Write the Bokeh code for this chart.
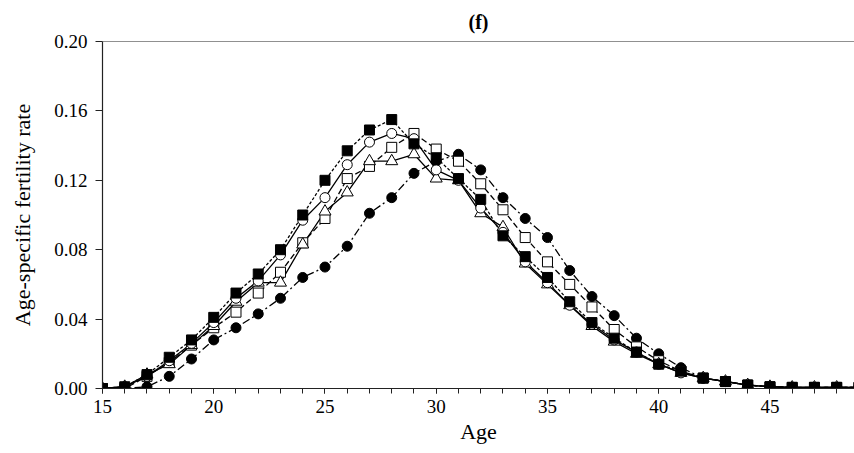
from bokeh.plotting import figure
from bokeh.models import Range1d, FixedTicker, NumeralTickFormatter, Span
from bokeh.embed import file_html
from bokeh.resources import INLINE

ages = list(range(15, 50))

filled_squares = [0.000, 0.001, 0.008, 0.018, 0.028, 0.041, 0.055, 0.066, 0.080, 0.100,
                  0.120, 0.137, 0.149, 0.155, 0.141, 0.133, 0.121, 0.109, 0.088, 0.076,
                  0.064, 0.050, 0.038, 0.029, 0.021, 0.014, 0.010, 0.006, 0.004, 0.002,
                  0.001, 0.0007, 0.0007, 0.0007, 0.0007]
open_circles = [0.000, 0.001, 0.007, 0.016, 0.026, 0.038, 0.052, 0.062, 0.077, 0.097,
                0.110, 0.129, 0.142, 0.147, 0.144, 0.126, 0.120, 0.104, 0.090, 0.073,
                0.061, 0.048, 0.037, 0.028, 0.021, 0.014, 0.009, 0.006, 0.004, 0.002,
                0.001, 0.0006, 0.0006, 0.0006, 0.0006]
open_squares = [0.000, 0.000, 0.007, 0.015, 0.025, 0.035, 0.044, 0.055, 0.067, 0.084,
                0.098, 0.121, 0.128, 0.139, 0.147, 0.138, 0.131, 0.118, 0.103, 0.087,
                0.073, 0.060, 0.047, 0.034, 0.024, 0.016, 0.010, 0.006, 0.004, 0.002,
                0.001, 0.0006, 0.0006, 0.0006, 0.0006]
open_triangles = [0.000, 0.001, 0.008, 0.014, 0.025, 0.036, 0.050, 0.061, 0.061, 0.083,
                  0.102, 0.113, 0.131, 0.131, 0.135, 0.121, 0.120, 0.101, 0.093, 0.072,
                  0.060, 0.048, 0.036, 0.027, 0.020, 0.014, 0.009, 0.006, 0.004, 0.002,
                  0.001, 0.0006, 0.0006, 0.0006, 0.0006]
filled_circles = [0.000, 0.000, 0.001, 0.007, 0.017, 0.028, 0.035, 0.043, 0.052, 0.064,
                  0.070, 0.082, 0.101, 0.110, 0.124, 0.131, 0.135, 0.126, 0.110, 0.098,
                  0.087, 0.068, 0.053, 0.042, 0.029, 0.020, 0.012, 0.006, 0.004, 0.002,
                  0.001, 0.0007, 0.0007, 0.0007, 0.0007]

x_major_ticks = [15, 20, 25, 30, 35, 40, 45]
y_major_ticks = [0.00, 0.04, 0.08, 0.12, 0.16, 0.20]

FONT = "Liberation Serif"

p = figure(width=854, height=453, x_range=Range1d(15, 48.8), y_range=Range1d(0, 0.2),
           output_backend="svg", toolbar_location=None,
           min_border_left=102, min_border_right=0, min_border_top=40, min_border_bottom=65,
           title="(f)")
p.title.align = "center"
p.title.text_font = FONT
p.title.text_font_size = "20px"
p.title.text_font_style = "bold"
p.title.text_color = "black"
p.title.standoff = 17
p.title.offset = -6

p.outline_line_color = None
p.xgrid.visible = False
p.ygrid.visible = False
p.background_fill_color = "white"
p.border_fill_color = "white"

p.add_layout(Span(location=0.2, dimension="width", line_color="#222222", line_width=1.2))

xa = p.xaxis[0]
xa.ticker = FixedTicker(ticks=x_major_ticks, minor_ticks=list(range(15, 50)))
xa.axis_label = "Age"
ya = p.yaxis[0]
ya.ticker = FixedTicker(ticks=y_major_ticks, minor_ticks=[])
ya.formatter = NumeralTickFormatter(format="0.00")
ya.axis_label = "Age-specific fertility rate"

for ax in (xa, ya):
    ax.axis_line_color = "#222222"
    ax.axis_line_width = 1.2
    ax.major_tick_line_color = "#222222"
    ax.minor_tick_line_color = "#222222"
    ax.major_tick_in = 0
    ax.minor_tick_in = 0
    ax.major_label_text_font = FONT
    ax.major_label_text_font_size = "19px"
    ax.major_label_text_color = "black"
    ax.axis_label_text_font = FONT
    ax.axis_label_text_font_size = "22px"
    ax.axis_label_text_font_style = "normal"
    ax.axis_label_text_color = "black"

xa.major_tick_out = 5
xa.minor_tick_out = 5
xa.major_label_standoff = 6
xa.axis_label_standoff = 3
ya.major_tick_out = 7
ya.major_label_standoff = 8
ya.axis_label_standoff = 16

LW = 1.3
p.line(ages, filled_circles, line_color="black", line_width=LW, line_dash="8 3 2 3")
p.line(ages, open_squares, line_color="black", line_width=LW, line_dash="6 3")
p.line(ages, open_triangles, line_color="black", line_width=LW)
p.line(ages, open_circles, line_color="black", line_width=LW)
p.line(ages, filled_squares, line_color="black", line_width=LW, line_dash="3 2")

p.scatter(ages, filled_circles, marker="circle", size=10, fill_color="black", line_color="black")
p.scatter(ages, open_squares, marker="square", size=10, fill_color="white", line_color="black", line_width=1)
p.scatter(ages, open_triangles, marker="triangle", size=12, fill_color="white", line_color="black", line_width=1)
p.scatter(ages, open_circles, marker="circle", size=10, fill_color="white", line_color="black", line_width=1)
p.scatter(ages, filled_squares, marker="square", size=10, fill_color="black", line_color="black")

open("out.html", "w").write(file_html(p, INLINE))
